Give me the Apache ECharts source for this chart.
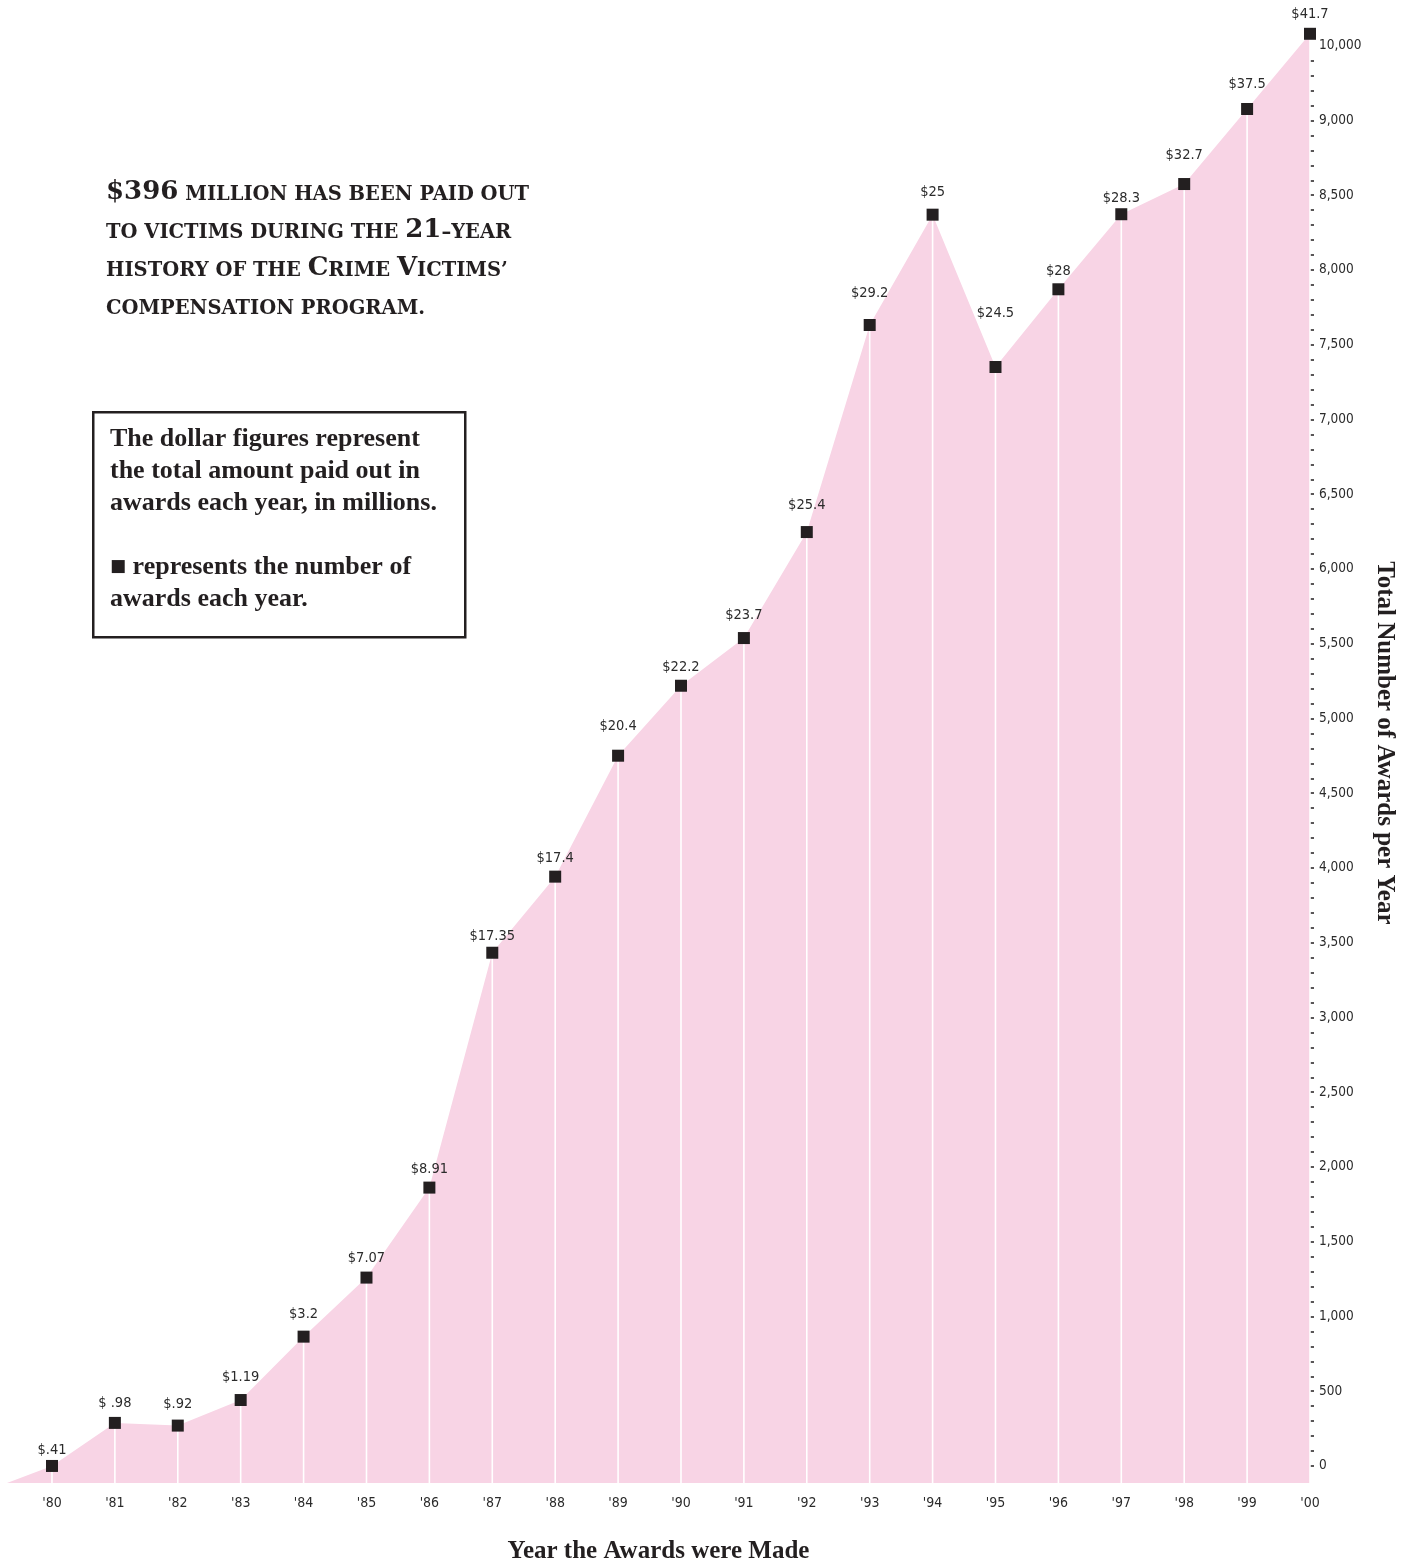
<!DOCTYPE html>
<html>
<head>
<meta charset="utf-8">
<title>Crime Victims' Compensation Awards, 1980–2000</title>
<script src="https://cdn.jsdelivr.net/npm/echarts@6/dist/echarts.min.js"></script>
<style>
  html, body { margin: 0; padding: 0; background: #ffffff; }
  #chart { width: 1412px; height: 1564px; }
</style>
</head>
<body>
<div id="chart"></div>
<script>
// Award years and their axis labels
const years = [1980, 1981, 1982, 1983, 1984, 1985, 1986, 1987, 1988, 1989, 1990,
               1991, 1992, 1993, 1994, 1995, 1996, 1997, 1998, 1999, 2000];
const yearLabels = ["'80", "'81", "'82", "'83", "'84", "'85", "'86", "'87", "'88", "'89", "'90",
                    "'91", "'92", "'93", "'94", "'95", "'96", "'97", "'98", "'99", "'00"];

// Number of awards made each year
const awards = [0, 288, 270, 441, 865, 1260, 1862, 3433, 3942, 4751, 5219,
                5538, 6247, 7632, 8370, 7351, 7871, 8373, 8575, 9077, 9580];

// Total paid out in awards each year, in millions (as printed)
const payouts = ['$.41', '$ .98', '$.92', '$1.19', '$3.2', '$7.07', '$8.91', '$17.35', '$17.4', '$20.4', '$22.2',
                 '$23.7', '$25.4', '$29.2', '$25', '$24.5', '$28', '$28.3', '$32.7', '$37.5', '$41.7'];

// Right-hand axis: labelled positions and their printed text
const awardTickValues = [0, 500, 1000, 1500, 2000, 2500, 3000, 3500, 4000, 4500,
                         5000, 5500, 6000, 6500, 7000, 7500, 8000, 8500, 9000, 9500];
const awardTickLabels = ['0', '500', '1,000', '1,500', '2,000', '2,500', '3,000', '3,500', '4,000', '4,500',
                         '5,000', '5,500', '6,000', '6,500', '7,000', '7,500', '8,000', '8,500', '9,000', '10,000'];

// ---- layout ----
const X_START = 1979.285;   // fill begins on the baseline left of the first year
const X_END = 2000;
const Y_MIN = -114;         // baseline sits slightly below zero
const Y_MAX = 9600;

// extra lift (px) for individual dollar labels
const labelLift = [-4, 0, 2, 3, 3, 0, -1, -3, -1, 10, -1, 3, 7, 12, 3, 34, -1, -4, 9, 5, 0];

const INK = '#231f20';
const LABEL_INK = '#2b2b2b';
const PINK = '#f8d4e5';
const NARROW = "'Liberation Sans Narrow', 'DejaVu Sans Condensed', 'Arial Narrow', 'Roboto Condensed', sans-serif";
const SERIF = "'Liberation Serif', 'DejaVu Serif', serif";
const WIDE_SERIF = "'DejaVu Serif', 'Liberation Serif', serif";

const points = years.map((y, i) => [y, awards[i]]);

// minor ticks every 100 awards
const minorTicks = [];
for (let v = 0; v <= 9400; v += 100) minorTicks.push(v);

const chart = echarts.init(document.getElementById('chart'), null, { renderer: 'canvas' });

const option = {
  backgroundColor: '#ffffff',
  animation: false,
  grid: {
    left: 7,
    right: 102,
    top: 30.8,
    bottom: 81,
    containLabel: false,
    outerBoundsMode: 'none'
  },
  xAxis: {
    type: 'value',
    min: X_START,
    max: X_END,
    name: 'Year the Awards were Made',
    nameLocation: 'middle',
    nameGap: 56,
    nameTextStyle: {
      fontFamily: SERIF,
      fontWeight: 'bold',
      fontSize: 25,
      color: INK
    },
    axisLine: { show: false },
    axisTick: { show: false },
    splitLine: { show: false },
    axisLabel: {
      customValues: years,
      margin: 13,
      fontFamily: NARROW,
      fontSize: 14,
      color: LABEL_INK,
      formatter: (v) => yearLabels[years.indexOf(Math.round(v))] || ''
    }
  },
  yAxis: {
    type: 'value',
    position: 'right',
    min: Y_MIN,
    max: Y_MAX,
    name: 'Total Number of Awards per Year',
    nameLocation: 'middle',
    nameRotate: -90,
    nameGap: 61,
    nameTextStyle: {
      fontFamily: SERIF,
      fontWeight: 'bold',
      fontSize: 25,
      color: INK,
      padding: [0, 28, 0, 0]
    },
    axisLine: { show: false },
    splitLine: { show: false },
    axisTick: {
      show: true,
      customValues: minorTicks,
      length: 4,
      lineStyle: { color: INK, width: 1.5 }
    },
    axisLabel: {
      customValues: awardTickValues,
      margin: 9,
      fontFamily: NARROW,
      fontSize: 13.5,
      color: LABEL_INK,
      formatter: (v) => {
        const i = awardTickValues.indexOf(Math.round(v));
        return i >= 0 ? awardTickLabels[i] : '';
      }
    }
  },
  series: [
    {
      // pink area under the award counts
      type: 'line',
      data: [[X_START, Y_MIN]].concat(points),
      symbol: 'none',
      lineStyle: { width: 0 },
      areaStyle: { color: PINK, opacity: 1, origin: 'start' },
      silent: true,
      z: 1
    },
    {
      // white drop lines from each year's point to the baseline
      type: 'custom',
      data: points,
      encode: { x: 0, y: 1 },
      renderItem: (params, api) => {
        const top = api.coord([api.value(0), api.value(1)]);
        const bottom = api.coord([api.value(0), Y_MIN]);
        return {
          type: 'line',
          shape: { x1: top[0], y1: top[1], x2: bottom[0], y2: bottom[1] },
          style: { stroke: '#ffffff', lineWidth: 1.6 }
        };
      },
      silent: true,
      z: 2
    },
    {
      // square markers with the dollar amount above each
      type: 'scatter',
      data: points.map((p, i) => ({
        value: p,
        label: { offset: [0, -labelLift[i]] }
      })),
      symbol: 'rect',
      symbolSize: 12,
      itemStyle: { color: INK, opacity: 1 },
      label: {
        show: true,
        position: 'top',
        distance: 6,
        fontFamily: NARROW,
        fontSize: 14.5,
        color: LABEL_INK,
        formatter: (p) => payouts[p.dataIndex]
      },
      silent: true,
      z: 3
    }
  ],
  graphic: [
    {
      type: 'text',
      left: 106,
      top: 167,
      style: {
        text: [
          '{b|$396} {s|MILLION HAS BEEN PAID OUT}',
          '{s|TO VICTIMS DURING THE }{b|21}{s|–YEAR}',
          '{s|HISTORY OF THE }{b|C}{s|RIME }{b|V}{s|ICTIMS’}',
          '{s|COMPENSATION PROGRAM.}'
        ].join('\n'),
        fill: INK,
        font: 'bold 20px ' + WIDE_SERIF,
        lineHeight: 38,
        rich: {
          b: { fontFamily: WIDE_SERIF, fontWeight: 'bold', fontSize: 26, fill: INK, lineHeight: 38, verticalAlign: 'bottom' },
          s: { fontFamily: WIDE_SERIF, fontWeight: 'bold', fontSize: 19.5, fill: INK, lineHeight: 38, verticalAlign: 'bottom' }
        }
      }
    },
    {
      type: 'rect',
      left: 92,
      top: 411,
      shape: { width: 372, height: 225 },
      style: { fill: '#ffffff', stroke: INK, lineWidth: 2.5 }
    },
    {
      type: 'text',
      left: 110,
      top: 423,
      style: {
        text: 'The dollar figures represent\nthe total amount paid out in\nawards each year, in millions.\n \n{sq|■} represents the number of\nawards each year.',
        fill: INK,
        font: 'bold 26px ' + SERIF,
        lineHeight: 32,
        rich: {
          sq: { fontFamily: "'DejaVu Sans', sans-serif", fontSize: 17, fill: INK, lineHeight: 32 }
        }
      }
    }
  ]
};

chart.setOption(option);
</script>
</body>
</html>
